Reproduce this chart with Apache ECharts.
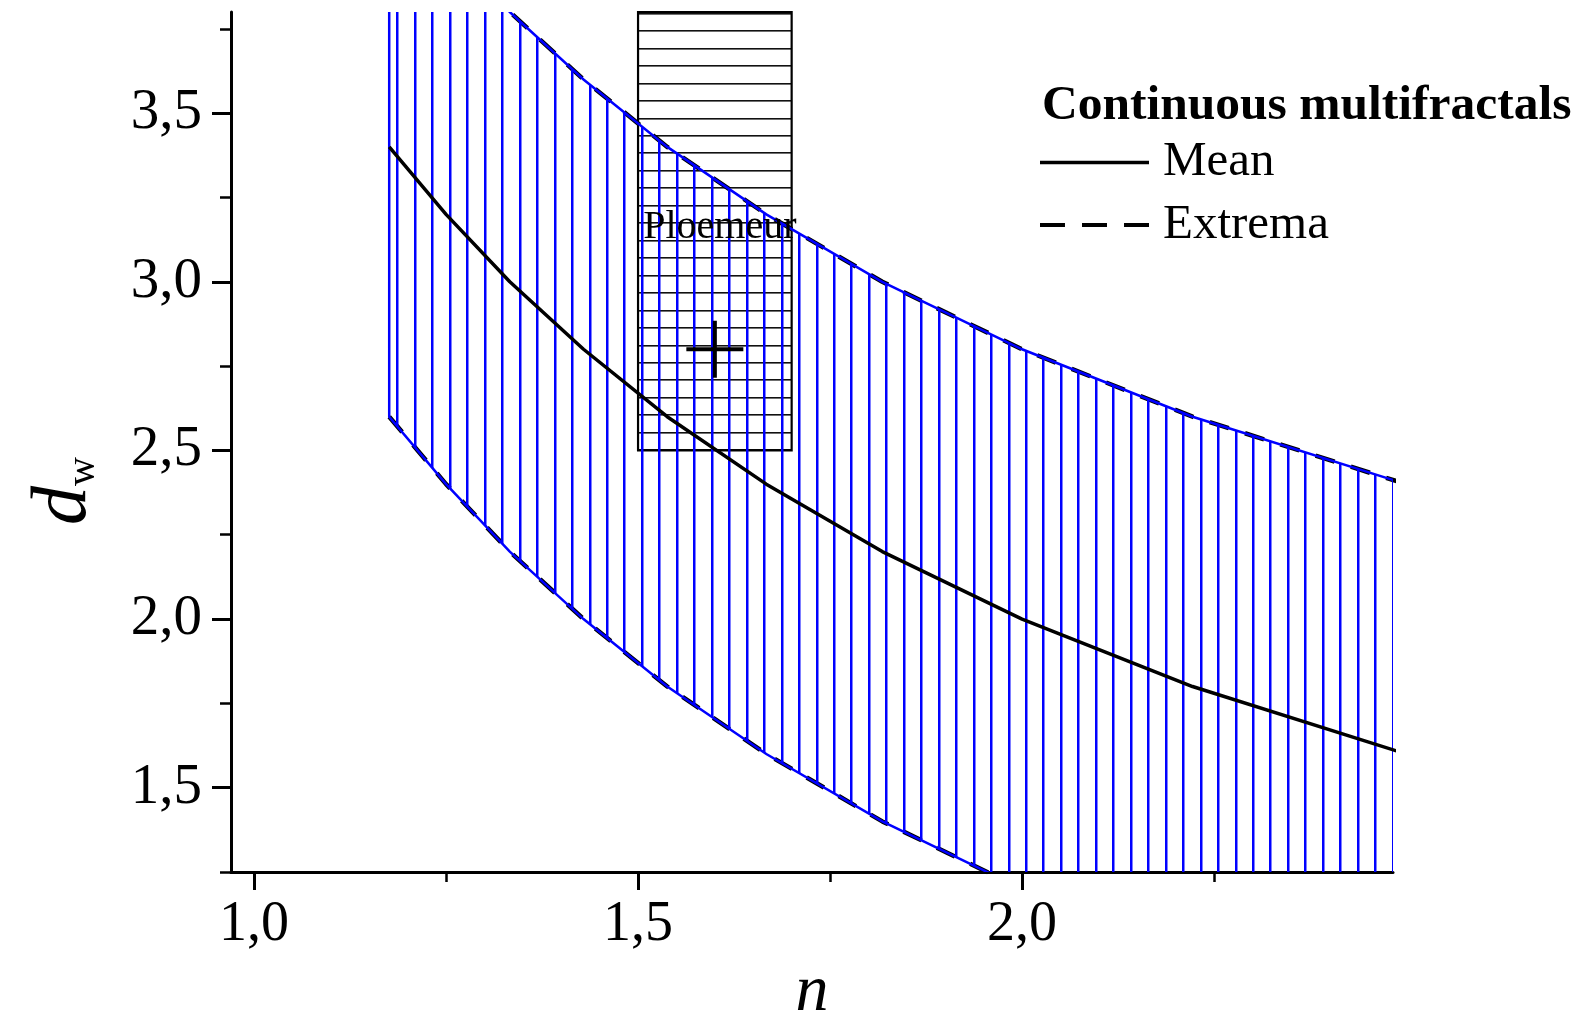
<!DOCTYPE html>
<html>
<head>
<meta charset="utf-8">
<script src="https://cdn.jsdelivr.net/npm/echarts@6/dist/echarts.min.js"></script>
<style>html,body{margin:0;padding:0;background:#fff}#c{width:1583px;height:1021px}</style>
</head>
<body>
<div id="c"></div>
<script>
// ---- data ----
const nValues     = [1.176, 1.25, 1.333, 1.429, 1.538, 1.667, 1.818, 2.0, 2.222, 2.5];
const meanValues  = [3.4, 3.2, 3.0, 2.8, 2.6, 2.4, 2.2, 2.0, 1.8, 1.6];
const upperValues = [4.2, 4.0, 3.8, 3.6, 3.4, 3.2, 3.0, 2.8, 2.6, 2.4];
const lowerValues = [2.6, 2.4, 2.2, 2.0, 1.8, 1.6, 1.4, 1.2, 1.0, 0.8];
const ploemeurBox = [1.5, 1.7, 2.5, 3.8];   // nMin, nMax, dMin, dMax
const ploemeurN = [1.6];
const ploemeurD = [2.8];
const xMajorTicks = [1.0, 1.5, 2.0];
const xMinorTicks = [1.25, 1.75, 2.25];
const yMajorTicks = [1.5, 2.0, 2.5, 3.0, 3.5];
const yMinorTicks = [1.25, 1.75, 2.25, 2.75, 3.25, 3.75];

const FONT = '"Liberation Serif", "Times New Roman", serif';
const fmt = v => Number(v).toFixed(1).replace('.', ',');

// hatch patterns (style only)
function hatch(vertical, color, thick) {
  const period = 17.46, offset = 13.6, len = 1746;
  const c = document.createElement('canvas');
  c.width = vertical ? len : 2;
  c.height = vertical ? 2 : len;
  const ctx = c.getContext('2d');
  ctx.fillStyle = color;
  for (let k = 0; k < 100; k++) {
    const p = Math.round(offset + k * period - thick / 2);
    if (vertical) ctx.fillRect(p, 0, thick, 2); else ctx.fillRect(0, p, 2, thick);
  }
  return c;
}
const vPattern = { image: hatch(true, '#0000ff', 2.5), repeat: 'repeat' };
const hPattern = { image: hatch(false, '#111111', 1.6), repeat: 'repeat' };

const chart = echarts.init(document.getElementById('c'), null, { renderer: 'canvas' });

const axisCommon = { type: 'value', splitLine: { show: false }, scale: false };

const option = {
  animation: false,
  backgroundColor: '#fff',
  textStyle: { fontFamily: FONT },
  title: {
    text: 'Continuous multifractals', left: 1037, top: 76,
    textStyle: { fontSize: 49.5, fontWeight: 'bold', fontFamily: FONT, color: '#000', lineHeight: 49.5 }
  },
  legend: {
    orient: 'vertical', left: 1035, top: 132.5,
    itemWidth: 109, itemHeight: 4, itemGap: 12.5,
    selectedMode: false,
    itemStyle: { borderWidth: 0 },
    data: [
      { name: 'Mean', icon: 'path://M0,0h109v3.5h-109z' },
      { name: 'Extrema', icon: 'path://M0,0h22v3.5h-22z M37,0h22v3.5h-22z M74,0h22v3.5h-22z' }
    ],
    textStyle: { fontSize: 49, fontFamily: FONT, color: '#000', lineHeight: 50, padding: [0, 0, 0, 9] }
  },
  graphic: [
    {
      type: 'text', x: 103.5, y: 491, rotation: Math.PI / 2, silent: true,
      style: {
        text: '{d|d}{w|w}', align: 'center', verticalAlign: 'bottom',
        rich: {
          d: { fontSize: 78, fontStyle: 'italic', fontFamily: FONT, fill: '#000', lineHeight: 116, verticalAlign: 'bottom' },
          w: { fontSize: 40, fontFamily: FONT, fill: '#000', lineHeight: 30, verticalAlign: 'bottom' }
        }
      }
    }
  ],
  grid: { left: 231, top: 12, right: 190, bottom: 149, containLabel: false, outerBoundsMode: 'none' },
  xAxis: [
    Object.assign({}, axisCommon, {
      min: 0.97, max: 2.483, position: 'bottom',
      axisLine: { show: true, onZero: false, lineStyle: { color: '#000', width: 3 } },
      axisTick: { show: true, inside: false, length: 18, customValues: xMajorTicks, lineStyle: { color: '#000', width: 3 } },
      axisLabel: { show: true, customValues: xMajorTicks, formatter: fmt, margin: 25, fontSize: 56, lineHeight: 56, fontFamily: FONT, color: '#000' },
      name: 'n', nameLocation: 'middle', nameGap: 88,
      nameTextStyle: { fontSize: 66, fontStyle: 'italic', fontFamily: FONT, color: '#000', lineHeight: 66 }
    }),
    Object.assign({}, axisCommon, {
      min: 0.97, max: 2.483, position: 'bottom',
      axisLine: { show: false, onZero: false },
      axisTick: { show: true, inside: false, length: 10, customValues: xMinorTicks, lineStyle: { color: '#000', width: 2.5 } },
      axisLabel: { show: false }
    })
  ],
  yAxis: [
    Object.assign({}, axisCommon, {
      min: 1.25, max: 3.8, position: 'left',
      axisLine: { show: true, onZero: false, lineStyle: { color: '#000', width: 3 } },
      axisTick: { show: true, inside: false, length: 19, customValues: yMajorTicks, lineStyle: { color: '#000', width: 3 } },
      axisLabel: { show: true, customValues: yMajorTicks, formatter: fmt, margin: 29, fontSize: 57, lineHeight: 57, fontFamily: FONT, color: '#000' }
    }),
    Object.assign({}, axisCommon, {
      min: 1.25, max: 3.8, position: 'left',
      axisLine: { show: false, onZero: false },
      axisTick: { show: true, inside: false, length: 11, customValues: yMinorTicks, lineStyle: { color: '#000', width: 2.5 } },
      axisLabel: { show: false }
    })
  ],
  series: [
    {
      name: 'Ploemeur box', type: 'custom', z: 1, xAxisIndex: 0, yAxisIndex: 0,
      data: [ploemeurBox],
      renderItem: function (params, api) {
        const p1 = api.coord([ploemeurBox[0], ploemeurBox[3]]);
        const p2 = api.coord([ploemeurBox[1], ploemeurBox[2]]);
        return {
          type: 'rect',
          shape: { x: p1[0], y: p1[1], width: p2[0] - p1[0], height: p2[1] - p1[1] },
          style: { fill: hPattern, stroke: '#000', lineWidth: 2.2 }
        };
      }
    },
    {
      name: 'Extrema', type: 'line', z: 2, symbol: 'none', clip: true, color: '#000',
      xAxisIndex: 0, yAxisIndex: 0,
      data: nValues.map((n, i) => [n, upperValues[i]]),
      itemStyle: { color: '#000' },
      lineStyle: { color: '#000', width: 4.5, type: [20, 17] }
    },
    {
      name: 'Extrema', type: 'line', z: 2, symbol: 'none', clip: true, color: '#000',
      xAxisIndex: 0, yAxisIndex: 0,
      data: nValues.map((n, i) => [n, lowerValues[i]]),
      itemStyle: { color: '#000' },
      lineStyle: { color: '#000', width: 4.5, type: [20, 17] }
    },
    {
      name: 'Band', type: 'custom', z: 3, xAxisIndex: 0, yAxisIndex: 0,
      data: [[nValues[0], meanValues[0]]],
      renderItem: function (params, api) {
        const pts = [];
        for (let i = 0; i < nValues.length; i++) pts.push(api.coord([nValues[i], upperValues[i]]));
        for (let i = nValues.length - 1; i >= 0; i--) pts.push(api.coord([nValues[i], lowerValues[i]]));
        const cs = params.coordSys;
        return {
          type: 'polygon',
          shape: { points: pts },
          style: { fill: vPattern, stroke: '#0000ff', lineWidth: 2.5 },
          clipPath: { type: 'rect', shape: { x: cs.x, y: cs.y, width: cs.width, height: cs.height } }
        };
      }
    },
    {
      name: 'Mean', type: 'line', z: 4, symbol: 'none', clip: true, color: '#000',
      xAxisIndex: 0, yAxisIndex: 0,
      data: nValues.map((n, i) => [n, meanValues[i]]),
      itemStyle: { color: '#000' },
      lineStyle: { color: '#000', width: 3.5 }
    },
    {
      name: 'Ploemeur', type: 'scatter', z: 5, xAxisIndex: 0, yAxisIndex: 0,
      data: ploemeurN.map((n, i) => [n, ploemeurD[i]]),
      symbol: 'path://M26.5,0h4v57h-4z M0,26.5h57v4h-57z',
      symbolSize: 57, symbolKeepAspect: true,
      itemStyle: { color: '#000', opacity: 1 },
      label: {
        show: true, formatter: 'Ploemeur', position: 'inside', offset: [5, -122],
        fontSize: 40, fontFamily: FONT, color: '#000', opacity: 1
      }
    }
  ]
};
chart.setOption(option);
</script>
</body>
</html>
